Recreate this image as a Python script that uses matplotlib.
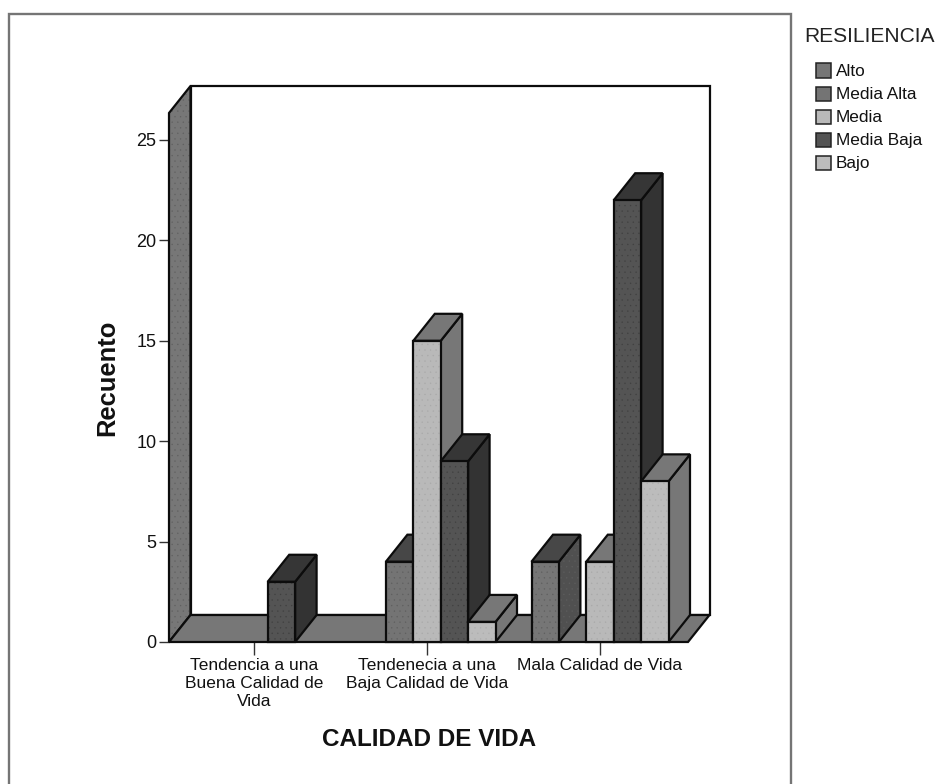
import matplotlib
matplotlib.use("Agg")
import matplotlib.pyplot as plt
from matplotlib.patches import Polygon, Rectangle

plt.rcParams['font.family'] = ['Liberation Sans', 'DejaVu Sans']
plt.rcParams['hatch.linewidth'] = 0.2

categories = ["Tendencia a una\nBuena Calidad de\nVida",
              "Tendenecia a una\nBaja Calidad de Vida",
              "Mala Calidad de Vida"]
series_names = ["Alto", "Media Alta", "Media", "Media Baja", "Bajo"]
alto = [0, 0, 4]
media_alta = [0, 4, 0]
media = [0, 15, 4]
media_baja = [3, 9, 22]
bajo = [0, 1, 8]
series_values = [alto, media_alta, media, media_baja, bajo]
y_ticks = [0, 5, 10, 15, 20, 25]
front_cols = ["#767676", "#747474", "#b9b9b9", "#545454", "#bcbcbc"]
top_cols = ["#474747", "#474747", "#777777", "#363636", "#777777"]
side_cols = ["#505050", "#505050", "#777777", "#333333", "#777777"]
dot_cols = ["#5e5e5e", "#5e5e5e", "#a8a8a8", "#3f3f3f", "#adadad"]
wall_col = "#777777"

W, H = 939, 784
fig = plt.figure(figsize=(W / 100, H / 100), dpi=100, facecolor="white")

L, R, B, T = 169, 709, 642, 86
ax = fig.add_axes([L / W, 1 - B / H, (R - L) / W, (B - T) / H])
px_cat = 173.0
px_val = 20.08
ax.set_xlim((L - 254) / px_cat, (R - 254) / px_cat)
ax.set_ylim(0, (B - T) / px_val)
ax.patch.set_visible(False)
for s in ax.spines.values():
    s.set_visible(False)

dx = 21.5 / px_cat
dy = 27.0 / px_val
ymax = (B - 113) / px_val
x0 = (L - 254) / px_cat
xf = (688 - 254) / px_cat
bw = 27.4 / px_cat
EDGE = dict(edgecolor="#0c0c0c", linewidth=1.6, joinstyle="miter", clip_on=False)


def face(points, color, dots=None, z=2):
    if dots:
        ax.add_patch(Polygon(points, closed=True, facecolor=color, edgecolor=dots,
                             hatch="...", linewidth=0, zorder=z, clip_on=False))
        ax.add_patch(Polygon(points, closed=True, fill=False, zorder=z, **EDGE))
    else:
        ax.add_patch(Polygon(points, closed=True, facecolor=color, zorder=z, **EDGE))


# back wall
ax.add_patch(Rectangle((x0 + dx, dy), xf - x0, ymax, facecolor="white", zorder=1, **EDGE))
# left wall
face([(x0, 0), (x0 + dx, dy), (x0 + dx, ymax + dy), (x0, ymax)], wall_col, "#5f5f5f")
# floor
face([(x0, 0), (xf, 0), (xf + dx, dy), (x0 + dx, dy)], wall_col)

z = 3
for ic in range(len(categories)):
    for si, vals in enumerate(series_values):
        v = vals[ic]
        if v == 0:
            continue
        xl = ic + (si - 2.5) * bw
        xr = xl + bw
        face([(xr, 0), (xr + dx, dy), (xr + dx, v + dy), (xr, v)], side_cols[si],
             dot_cols[si] if si in (0, 1) else None, z)
        face([(xl, v), (xr, v), (xr + dx, v + dy), (xl + dx, v + dy)], top_cols[si], None, z)
        face([(xl, 0), (xr, 0), (xr, v), (xl, v)], front_cols[si], dot_cols[si], z)
        z += 1

ax.set_xticks(range(len(categories)))
ax.set_xticklabels(categories, fontsize=12.5, linespacing=1.27, color="#111111")
ax.set_yticks(y_ticks)
ax.tick_params(axis="y", length=7.5, width=1, color="#333333", labelsize=13, pad=1.5,
               labelcolor="#111111")
ax.tick_params(axis="x", length=9, width=1, color="#333333", pad=2.5)

fig.text(107 / W, 1 - 378 / H, "Recuento", rotation=90, fontsize=18.4, fontweight="bold",
         ha="center", va="center", color="#111111")
fig.text(429 / W, 1 - 740 / H, "CALIDAD DE VIDA", fontsize=17.5, fontweight="bold",
         ha="center", va="center", color="#111111")

# outer frame: its bottom edge falls outside the picture
fig.add_artist(Rectangle((9 / W, -10 / H), 781.5 / W, (784 - 14 + 10) / H, transform=fig.transFigure,
                         fill=False, edgecolor="#757575", linewidth=1.7))

# legend
fig.text(804 / W, 1 - 37 / H, "RESILIENCIA", fontsize=15.1, ha="left", va="center", color="#222222")
for i, name in enumerate(series_names):
    yc = 71 + i * 23.1
    fig.add_artist(Rectangle((816 / W, 1 - (yc + 7) / H), 14.5 / W, 14.5 / H, transform=fig.transFigure,
                             facecolor=front_cols[i], edgecolor="#222222", linewidth=1.1))
    fig.text(836 / W, 1 - yc / H, name, fontsize=12.4, ha="left", va="center", color="#111111")

fig.savefig("out.png", dpi=100)
